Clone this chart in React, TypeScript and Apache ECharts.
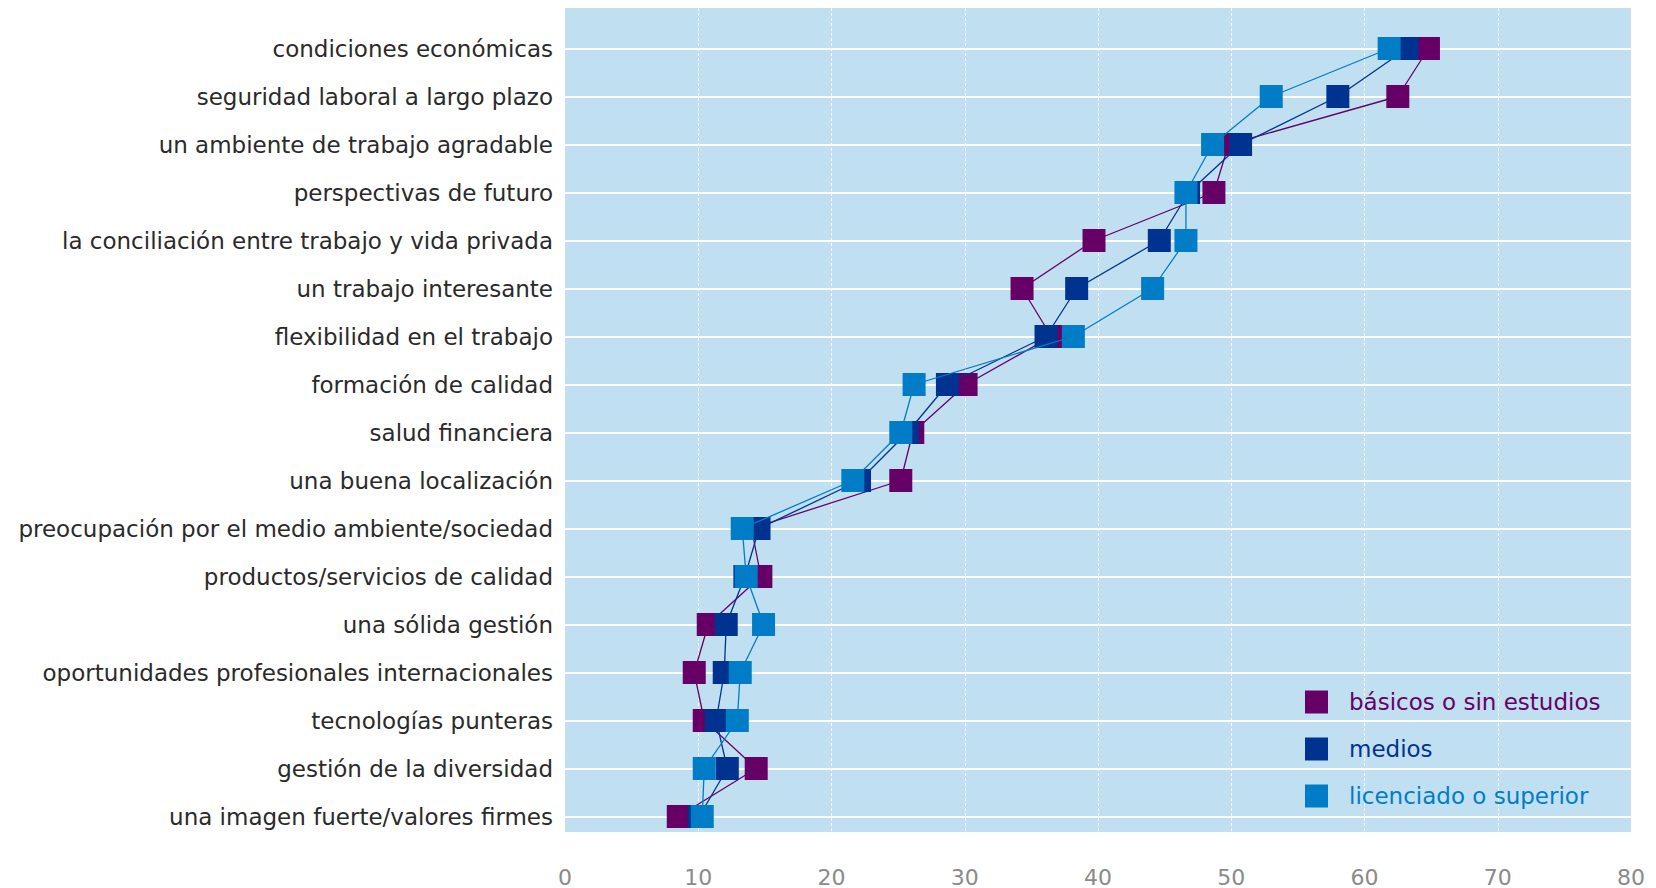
import React, { useEffect, useRef } from "react";
import * as echarts from "echarts";

const categories = [
  "condiciones económicas",
  "seguridad laboral a largo plazo",
  "un ambiente de trabajo agradable",
  "perspectivas de futuro",
  "la conciliación entre trabajo y vida privada",
  "un trabajo interesante",
  "flexibilidad en el trabajo",
  "formación de calidad",
  "salud financiera",
  "una buena localización",
  "preocupación por el medio ambiente/sociedad",
  "productos/servicios de calidad",
  "una sólida gestión",
  "oportunidades profesionales internacionales",
  "tecnologías punteras",
  "gestión de la diversidad",
  "una imagen fuerte/valores firmes",
];

const seriesNames = ["básicos o sin estudios", "medios", "licenciado o superior"];

const basicos = [64.8, 62.5, 49.8, 48.7, 39.7, 34.3, 36.5, 30.1, 26.1, 25.2, 14.0, 14.7, 10.75, 9.7, 10.45, 14.35, 8.5];
const medios = [63.2, 58.0, 50.7, 46.8, 44.6, 38.4, 36.1, 28.7, 25.7, 22.1, 14.56, 13.5, 12.1, 11.95, 11.35, 12.18, 10.07];
const licenciado = [61.85, 53.0, 48.6, 46.6, 46.6, 44.1, 38.15, 26.2, 25.2, 21.6, 13.3, 13.6, 14.9, 13.15, 12.93, 10.45, 10.3];

const xMin = 0;
const xMax = 80;
const xInterval = 10;

const colors = ["#660066", "#00338F", "#007DC6"];
const FONT = "DejaVu Sans";

export default function App() {
  const ref = useRef<HTMLDivElement>(null);

  useEffect(() => {
    if (!ref.current) return;
    const chart = echarts.init(ref.current, null, { renderer: "svg" });
    const values = [basicos, medios, licenciado];

    const option: any = {
      animation: false,
      backgroundColor: "#ffffff",
      grid: [
        {
          left: 565,
          right: 25,
          top: 48.5,
          bottom: 71.5,
          show: false,
        },
        {
          left: 565,
          right: 25,
          top: 8,
          bottom: 56,
          show: true,
          backgroundColor: "#C0DFF1",
          borderWidth: 0,
          z: -1,
        },
      ],
      xAxis: [
        {
          gridIndex: 0,
          type: "value",
          min: xMin,
          max: xMax,
          interval: xInterval,
          show: false,
        },
        {
          gridIndex: 1,
          type: "value",
          min: xMin,
          max: xMax,
          interval: xInterval,
          axisLine: { show: false },
          axisTick: { show: false },
          axisLabel: {
            color: "#8a8a8a",
            fontSize: 22,
            fontFamily: FONT,
            margin: 34,
          },
          splitLine: {
            show: true,
            showMinLine: false,
            showMaxLine: false,
            lineStyle: { color: "rgba(255,255,255,0.95)", width: 1, type: [3, 2] },
          },
        },
      ],
      yAxis: [
        {
          gridIndex: 0,
          type: "category",
          data: categories,
          inverse: true,
          boundaryGap: false,
          axisLine: { show: false },
          axisTick: { show: false },
          axisLabel: {
            color: "#2a2a2a",
            fontSize: 23,
            fontFamily: FONT,
            margin: 12,
            interval: 0,
          },
          splitLine: {
            show: true,
            lineStyle: { color: "#ffffff", width: 2 },
          },
        },
        {
          gridIndex: 1,
          type: "value",
          min: 0,
          max: 1,
          show: false,
          splitLine: { show: false },
        },
      ],
      legend: {
        orient: "vertical",
        left: 1305,
        top: 690.5,
        padding: 0,
        itemWidth: 23,
        itemHeight: 23,
        itemGap: 24,
        icon: "rect",
        selectedMode: false,
        textStyle: {
          fontSize: 23,
          fontFamily: FONT,
          lineHeight: 23,
          padding: [0, 0, 0, 16],
        },
        data: seriesNames.map((n, i) => ({
          name: n,
          textStyle: { color: colors[i] },
          itemStyle: { color: colors[i] },
        })),
      },
      series: seriesNames.map((name, i) => ({
        name,
        type: "line",
        xAxisIndex: 0,
        yAxisIndex: 0,
        data: values[i].map((v, j) => [v, j]),
        symbol: "rect",
        symbolSize: 23,
        showSymbol: true,
        color: colors[i],
        itemStyle: { color: colors[i] },
        lineStyle: { color: colors[i], width: 1.3 },
        emphasis: { disabled: true },
        silent: true,
        z: 2 + i,
      })),
    };

    chart.setOption(option);
    return () => chart.dispose();
  }, []);

  return (
    <div
      ref={ref}
      style={{ position: "fixed", left: 0, top: 0, width: 1656, height: 888 }}
    />
  );
}
